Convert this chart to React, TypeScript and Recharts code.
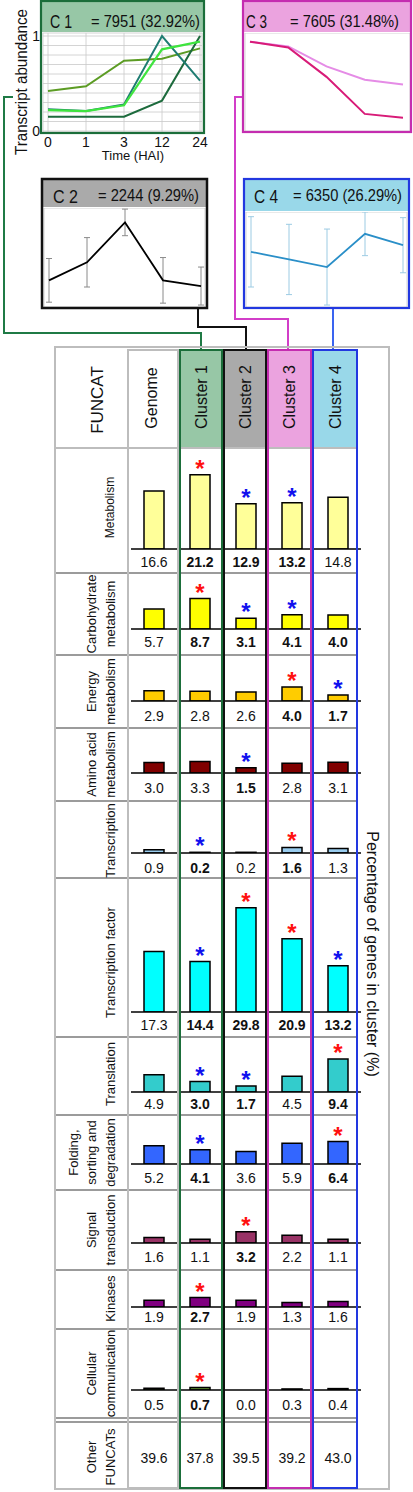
import React from 'react';
import { BarChart, Bar, XAxis, YAxis, LabelList, LineChart, Line, CartesianGrid, ErrorBar } from 'recharts';

const FONT = '"Liberation Sans", Arial, Helvetica, sans-serif';
const PX_PER_PCT = 3.5;

// ---------- categories ----------
const columns = ['Genome', 'Cluster 1', 'Cluster 2', 'Cluster 3', 'Cluster 4'];
const hai = ['0', '1', '3', '12', '24'];
const gridTicks = [0, 0.1, 0.2, 0.3, 0.4, 0.5, 0.6, 0.7, 0.8, 0.9, 1];

// ---------- cluster profiles (relative transcript abundance) ----------
const c1ProfileA = [0.42, 0.47, 0.74, 0.76, 0.87];
const c1ProfileB = [0.22, 0.21, 0.27, 0.86, 0.94];
const c1ProfileC = [0.23, 0.21, 0.28, 1.0, 0.53];
const c1ProfileD = [0.15, 0.15, 0.15, 0.32, 1.0];
const c2Profile = [0.27, 0.46, 0.88, 0.27, 0.21];
const c2Error = [0.23, 0.26, 0.14, 0.24, 0.2];
const c3ProfileA = [0.94, 0.89, 0.68, 0.54, 0.49];
const c3ProfileB = [0.94, 0.88, 0.57, 0.18, 0.14];
const c4Profile = [0.57, 0.49, 0.41, 0.76, 0.64];
const c4Error = [0.37, 0.37, 0.4, 0.23, 0.29];

const clusterNames = ['C 1', 'C 2', 'C 3', 'C 4'];
const clusterSizes = ['= 7951 (32.92%)', '= 2244 (9.29%)', '= 7605 (31.48%)', '= 6350 (26.29%)'];

// ---------- FUNCAT percentages (Genome, C1, C2, C3, C4) ----------
const pctMetabolism = [16.6, 21.2, 12.9, 13.2, 14.8];
const pctCarbohydrate = [5.7, 8.7, 3.1, 4.1, 4.0];
const pctEnergy = [2.9, 2.8, 2.6, 4.0, 1.7];
const pctAmino = [3.0, 3.3, 1.5, 2.8, 3.1];
const pctTranscription = [0.9, 0.2, 0.2, 1.6, 1.3];
const pctTF = [17.3, 14.4, 29.8, 20.9, 13.2];
const pctTranslation = [4.9, 3.0, 1.7, 4.5, 9.4];
const pctFolding = [5.2, 4.1, 3.6, 5.9, 6.4];
const pctSignal = [1.6, 1.1, 3.2, 2.2, 1.1];
const pctKinases = [1.9, 2.7, 1.9, 1.3, 1.6];
const pctCellular = [0.5, 0.7, 0.0, 0.3, 0.4];
const pctOther = [39.6, 37.8, 39.5, 39.2, 43.0];

// significance: '+' enriched (red), '-' depleted (blue)
const sigMetabolism = ['', '+', '-', '-', ''];
const sigCarbohydrate = ['', '+', '-', '-', ''];
const sigEnergy = ['', '', '', '+', '-'];
const sigAmino = ['', '', '-', '', ''];
const sigTranscription = ['', '-', '', '+', ''];
const sigTF = ['', '-', '+', '+', '-'];
const sigTranslation = ['', '-', '-', '', '+'];
const sigFolding = ['', '-', '', '', '+'];
const sigSignal = ['', '', '+', '', ''];
const sigKinases = ['', '+', '', '', ''];
const sigCellular = ['', '+', '', '', ''];
const sigOther = ['', '', '', '', ''];

const boldMetabolism = [0, 1, 1, 1, 0];
const boldCarbohydrate = [0, 1, 1, 1, 1];
const boldEnergy = [0, 0, 0, 1, 1];
const boldAmino = [0, 0, 1, 0, 0];
const boldTranscription = [0, 1, 0, 1, 0];
const boldTF = [0, 1, 1, 1, 1];
const boldTranslation = [0, 1, 1, 0, 1];
const boldFolding = [0, 1, 0, 0, 1];
const boldSignal = [0, 0, 1, 0, 0];
const boldKinases = [0, 1, 0, 0, 0];
const boldCellular = [0, 1, 0, 0, 0];
const boldOther = [0, 0, 0, 0, 0];

const funcatRows = [
  { label: ['Metabolism'], size: 12, values: pctMetabolism, sig: sigMetabolism, bold: boldMetabolism, color: '#ffff99', bars: true },
  { label: ['Carbohydrate', 'metabolism'], size: 13, values: pctCarbohydrate, sig: sigCarbohydrate, bold: boldCarbohydrate, color: '#ffff00', bars: true },
  { label: ['Energy', 'metabolism'], size: 13, values: pctEnergy, sig: sigEnergy, bold: boldEnergy, color: '#ffcc00', bars: true },
  { label: ['Amino acid', 'metabolism'], size: 13, values: pctAmino, sig: sigAmino, bold: boldAmino, color: '#800000', bars: true },
  { label: ['Transcription'], size: 13, values: pctTranscription, sig: sigTranscription, bold: boldTranscription, color: '#99ccee', bars: true },
  { label: ['Transcription factor'], size: 13, values: pctTF, sig: sigTF, bold: boldTF, color: '#00ffff', bars: true },
  { label: ['Translation'], size: 13, values: pctTranslation, sig: sigTranslation, bold: boldTranslation, color: '#33cccc', bars: true },
  { label: ['Folding,', 'sorting and', 'degradation'], size: 13, values: pctFolding, sig: sigFolding, bold: boldFolding, color: '#3366ff', bars: true },
  { label: ['Signal', 'transduction'], size: 13, values: pctSignal, sig: sigSignal, bold: boldSignal, color: '#993366', bars: true },
  { label: ['Kinases'], size: 13, values: pctKinases, sig: sigKinases, bold: boldKinases, color: '#800080', bars: true },
  { label: ['Cellular', 'communication'], size: 13, values: pctCellular, sig: sigCellular, bold: boldCellular, color: '#669933', bars: true },
  { label: ['Other', 'FUNCATs'], size: 13, values: pctOther, sig: sigOther, bold: boldOther, color: '#ffffff', bars: false },
];

// row geometry: top, baseline, bottom, value-label offset, label centre shift
const rowLayout = [
  { top: 448, base: 549, bottom: 573, gap: 18, ly: -3 },
  { top: 573, base: 629, bottom: 655, gap: 18, ly: 0 },
  { top: 655, base: 701, bottom: 728, gap: 20, ly: 0 },
  { top: 728, base: 773, bottom: 801, gap: 20, ly: 0 },
  { top: 801, base: 853, bottom: 878, gap: 20, ly: 1 },
  { top: 878, base: 1012, bottom: 1037, gap: 18, ly: 5 },
  { top: 1037, base: 1092, bottom: 1115, gap: 17, ly: -2 },
  { top: 1115, base: 1164, bottom: 1190, gap: 19, ly: 0 },
  { top: 1190, base: 1243, bottom: 1270, gap: 19, ly: 0 },
  { top: 1270, base: 1307, bottom: 1329, gap: 15, ly: -1 },
  { top: 1329, base: 1390, bottom: 1418, gap: 20, ly: 0 },
  { top: 1422, base: 1453, bottom: 1488, gap: 10, ly: 2 },
];

const separators = [573, 655, 728, 801, 878, 1037, 1115, 1190, 1270, 1329, 1418, 1422];

const clusterCols = [
  { x: 180, w: 42, stroke: '#1b6e3a', fill: '#97c7a6' },
  { x: 224, w: 42, stroke: '#111111', fill: '#aaaaaa' },
  { x: 268, w: 43, stroke: '#c42db0', fill: '#eba3df' },
  { x: 313, w: 44, stroke: '#2238e0', fill: '#99d8e9' },
];

function Asterisk(p: any) {
  const vb = p.viewBox || p;
  const v = p.value;
  if (!v) return null;
  const x = (vb.x ?? p.x) + (vb.width ?? p.width) / 2;
  const y = vb.y ?? p.y;
  return (
    <text x={x} y={y + 2} textAnchor="middle" fontSize={24} fontWeight={700} fontFamily={FONT}
      fill={v === '+' ? '#ff1010' : '#1010ee'}>*</text>
  );
}

function FuncatRow({ row, lay }: any) {
  const h = lay.bottom - lay.top;
  const plotH = lay.base - lay.top;
  const data = columns.map((c, i) => ({ col: c, value: row.values[i], sig: row.sig[i] }));
  const tick = (p: any) => {
    const i = columns.indexOf(p.payload.value);
    if (i < 0) return null;
    return (
      <text x={p.x} y={p.y + lay.gap} textAnchor="middle" fontSize={14} fontFamily={FONT}
        fontWeight={row.bold[i] ? 700 : 400} fill="#111">{row.values[i].toFixed(1)}</text>
    );
  };
  return (
    <div style={{ position: 'absolute', left: 128, top: lay.top, width: 233, height: h }}>
      <BarChart width={233} height={h} data={data} margin={{ top: 0, right: 0, bottom: 0, left: 3 }}>
        <YAxis hide type="number" domain={[0, plotH / PX_PER_PCT]} allowDataOverflow />
        <XAxis dataKey="col" type="category" height={h - plotH} interval={0} tickLine={false}
          tickSize={0} tickMargin={0}
          axisLine={row.bars ? { stroke: '#000', strokeWidth: 1.5 } : false} tick={tick} />
        <Bar dataKey="value" barSize={20} fill={row.color} stroke={row.bars ? '#000' : 'none'}
          strokeWidth={1.5} isAnimationActive={false} hide={!row.bars}>
          <LabelList dataKey="sig" content={Asterisk} />
        </Bar>
      </BarChart>
    </div>
  );
}

function Profile({ left, top, width, height, plot, series, axes, xPad }: any) {
  const span = plot.zero - plot.one;
  const lo = -(plot.y1 - plot.zero) / span;
  const hi = 1 + (plot.one - plot.y0) / span;
  const data = hai.map((t, i) => {
    const o: any = { t };
    series.forEach((s: any) => {
      o[s.key] = s.values[i];
      if (s.errors) o[s.key + 'e'] = s.errors[i];
    });
    return o;
  });
  const yW = axes ? plot.x0 - left : 0;
  const xH = top + height - plot.y1;
  return (
    <div style={{ position: 'absolute', left, top, width, height }}>
      <LineChart width={width} height={height} data={data}
        margin={{ top: plot.y0 - top, right: left + width - plot.x1, bottom: 0, left: axes ? 0 : plot.x0 - left }}>
        <CartesianGrid stroke="#c9c9c9" strokeWidth={0.8} />
        <XAxis dataKey="t" height={xH} padding={xPad} axisLine={false} tickLine={false}
          tickSize={0} tickMargin={5} interval={0}
          tick={axes ? { fill: '#111', fontSize: 14, fontFamily: FONT } : false} />
        <YAxis type="number" domain={[lo, hi]} allowDataOverflow ticks={gridTicks} width={yW} interval={0}
          axisLine={false} tickLine={false} tickSize={0} tickMargin={3}
          tick={axes ? { fill: '#111', fontSize: 14, fontFamily: FONT } : false}
          tickFormatter={(v: number) => (v === 0 || v === 1 ? String(v) : '')} />
        {series.map((s: any) => (
          <Line key={s.key} dataKey={s.key} stroke={s.color} strokeWidth={s.width} dot={false}
            isAnimationActive={false}>
            {s.errors && <ErrorBar dataKey={s.key + 'e'} width={3} strokeWidth={1} stroke={s.errColor} direction="y" />}
          </Line>
        ))}
      </LineChart>
    </div>
  );
}

function VText({ x, y, size, angle = -90, children, weight = 400 }: any) {
  return (
    <text x={x} y={y} transform={`rotate(${angle} ${x} ${y})`} textAnchor="middle" dominantBaseline="central"
      fontSize={size} fontFamily={FONT} fontWeight={weight} fill="#111">{children}</text>
  );
}

export default function App() {
  return (
    <div style={{ position: 'absolute', left: 0, top: 0, width: 413, height: 1492, background: '#fff', fontFamily: FONT }}>
      {/* background layer */}
      <svg width={413} height={1492} style={{ position: 'absolute', left: 0, top: 0 }}>
        <rect x={41} y={1} width={163} height={31} fill="#97c7a6" />
        <rect x={243} y={1} width={168} height={31} fill="#eba3df" />
        <rect x={42} y={179} width={165} height={28} fill="#aaaaaa" />
        <rect x={244} y={179} width={165} height={32} fill="#99d8e9" />
        {clusterCols.map((c, i) => (
          <rect key={i} x={c.x} y={350} width={c.w} height={98} fill={c.fill} />
        ))}
        {separators.map((y, i) => (
          <line key={i} x1={55} x2={357} y1={y} y2={y} stroke="#7a7a7a" strokeWidth={1.5} />
        ))}
      </svg>

      {/* cluster profiles */}
      <Profile left={0} top={20} width={225} height={142}
        plot={{ x0: 43, x1: 202, y0: 33, y1: 132, one: 36, zero: 131 }} xPad={{ left: 5, right: 2 }} axes
        series={[
          { key: 'a', color: '#5c9c24', width: 2, values: c1ProfileA },
          { key: 'd', color: '#1d6b3d', width: 2, values: c1ProfileD },
          { key: 'c', color: '#1f7c72', width: 2, values: c1ProfileC },
          { key: 'b', color: '#3fe43f', width: 2.2, values: c1ProfileB },
        ]} />
      <Profile left={243} top={33} width={168} height={100}
        plot={{ x0: 245, x1: 410, y0: 33, y1: 131, one: 36, zero: 131 }} xPad={{ left: 5, right: 7 }}
        series={[
          { key: 'a', color: '#e58ce6', width: 2, values: c3ProfileA },
          { key: 'b', color: '#d81b78', width: 2, values: c3ProfileB },
        ]} />
      <Profile left={42} top={208} width={165} height={100}
        plot={{ x0: 44, x1: 205, y0: 208, y1: 307, one: 211, zero: 306 }} xPad={{ left: 5, right: 4 }}
        series={[
          { key: 'a', color: '#000000', width: 1.8, values: c2Profile, errors: c2Error, errColor: '#8a8a8a' },
        ]} />
      <Profile left={244} top={212} width={165} height={96}
        plot={{ x0: 246, x1: 407, y0: 212, y1: 307, one: 211, zero: 306 }} xPad={{ left: 5, right: 4 }}
        series={[
          { key: 'a', color: '#2a8fc8', width: 1.8, values: c4Profile, errors: c4Error, errColor: '#9ccbe3' },
        ]} />

      {/* FUNCAT rows */}
      {funcatRows.map((r, i) => (
        <FuncatRow key={i} row={r} lay={rowLayout[i]} />
      ))}

      {/* overlay layer */}
      <svg width={413} height={1492} style={{ position: 'absolute', left: 0, top: 0, pointerEvents: 'none' }}>
        {/* connectors */}
        <polyline points="13,97 4,97 4,333 201,333 201,350" fill="none" stroke="#1f7a45" strokeWidth={2} />
        <polyline points="198,308 198,327 246,327 246,350" fill="none" stroke="#111" strokeWidth={2} />
        <polyline points="243,97 235,97 235,319 288,319 288,350" fill="none" stroke="#d23ec8" strokeWidth={2} />
        <polyline points="333,308 333,350" fill="none" stroke="#3a64f0" strokeWidth={2} />

        {/* cluster boxes */}
        <rect x={41} y={1} width={163} height={132} fill="none" stroke="#1b6e3a" strokeWidth={2.2} />
        <rect x={243} y={1} width={168} height={131} fill="none" stroke="#c42db0" strokeWidth={2.2} />
        <rect x={42} y={179} width={165} height={129} fill="none" stroke="#111" strokeWidth={2.5} />
        <rect x={244} y={179} width={165} height={129} fill="none" stroke="#2238e0" strokeWidth={2.2} />

        <text x={50} y={28} fontSize={19} fontFamily={FONT} fill="#111" textLength={22} lengthAdjust="spacingAndGlyphs">{clusterNames[0]}</text>
        <text x={91} y={27} fontSize={16} fontFamily={FONT} fill="#111" textLength={109} lengthAdjust="spacingAndGlyphs">{clusterSizes[0]}</text>
        <text x={53} y={203} fontSize={19} fontFamily={FONT} fill="#111" textLength={25} lengthAdjust="spacingAndGlyphs">{clusterNames[1]}</text>
        <text x={98} y={201} fontSize={16} fontFamily={FONT} fill="#111" textLength={101} lengthAdjust="spacingAndGlyphs">{clusterSizes[1]}</text>
        <text x={246} y={28} fontSize={19} fontFamily={FONT} fill="#111" textLength={21} lengthAdjust="spacingAndGlyphs">{clusterNames[2]}</text>
        <text x={290} y={27} fontSize={16} fontFamily={FONT} fill="#111" textLength={109} lengthAdjust="spacingAndGlyphs">{clusterSizes[2]}</text>
        <text x={254} y={203} fontSize={19} fontFamily={FONT} fill="#111" textLength={24} lengthAdjust="spacingAndGlyphs">{clusterNames[3]}</text>
        <text x={293} y={201} fontSize={16} fontFamily={FONT} fill="#111" textLength={109} lengthAdjust="spacingAndGlyphs">{clusterSizes[3]}</text>

        <text x={133} y={160} textAnchor="middle" fontSize={13} fontFamily={FONT} fill="#111">Time (HAI)</text>
        <text x={21.5} y={82} transform="rotate(-90 21.5 82)" textAnchor="middle" dominantBaseline="central"
          fontSize={16} fontFamily={FONT} fill="#111" textLength={146} lengthAdjust="spacingAndGlyphs">Transcript abundance</text>

        {/* table frame */}
        <rect x={55} y={347} width={334} height={1142} fill="none" stroke="#bdbdbd" strokeWidth={2} />
        <line x1={55} x2={357} y1={448} y2={448} stroke="#bdbdbd" strokeWidth={2} />
        <rect x={128} y={350} width={50} height={1138} fill="none" stroke="#bdbdbd" strokeWidth={2} />
        {clusterCols.map((c, i) => (
          <rect key={i} x={c.x} y={350} width={c.w} height={1138} fill="none" stroke={c.stroke} strokeWidth={2} />
        ))}

        <VText x={97} y={400} size={17}>FUNCAT</VText>
        <VText x={151} y={398} size={16}>{columns[0]}</VText>
        {clusterCols.map((c, i) => (
          <VText key={i} x={c.x + c.w / 2} y={397} size={16}>{columns[i + 1]}</VText>
        ))}
        <VText x={372} y={954} size={16} angle={90}>Percentage of genes in cluster (%)</VText>

        {funcatRows.map((r, i) => {
          const lay = rowLayout[i];
          const cy = (lay.top + lay.bottom) / 2 + lay.ly;
          const n = r.label.length;
          return r.label.map((s, k) => (
            <VText key={i + '-' + k} x={110 - (n - 1 - k) * 18.5} y={cy} size={r.size}>{s}</VText>
          ));
        })}
      </svg>
    </div>
  );
}
